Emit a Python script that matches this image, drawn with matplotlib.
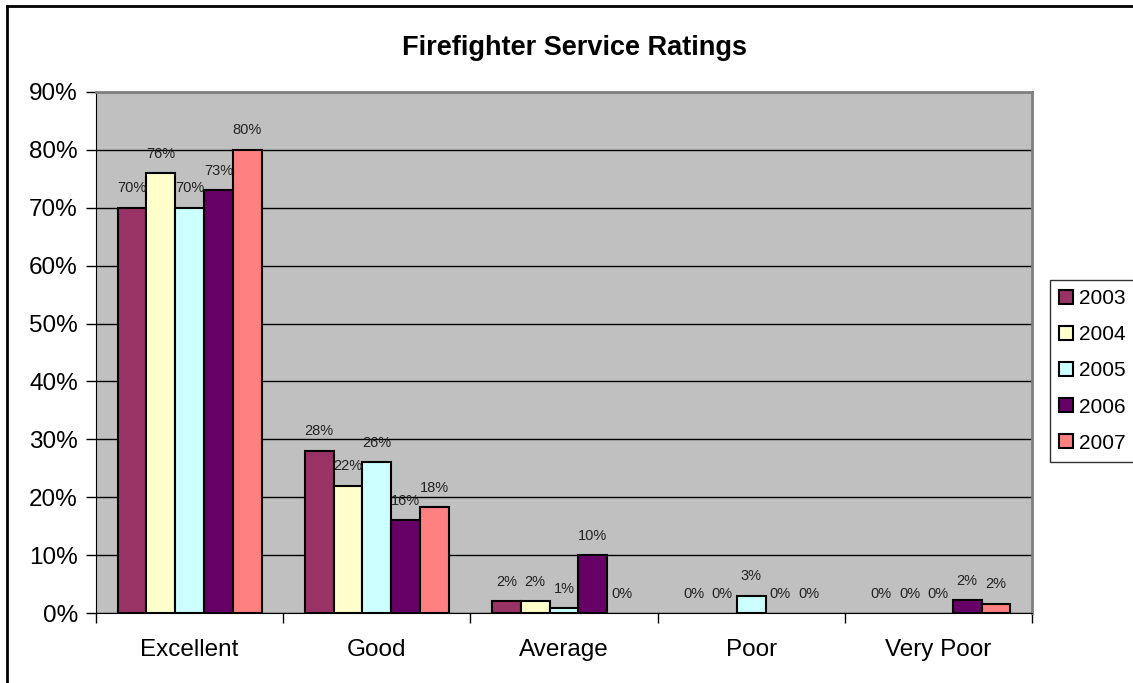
import matplotlib
matplotlib.use('Agg')
import matplotlib.pyplot as plt
import numpy as np
from matplotlib.lines import Line2D

categories = ['Excellent', 'Good', 'Average', 'Poor', 'Very Poor']
years = ['2003', '2004', '2005', '2006', '2007']
v2003 = [0.70, 0.28, 0.02, 0.0, 0.0]
v2004 = [0.76, 0.22, 0.02, 0.0, 0.0]
v2005 = [0.70, 0.26, 0.008, 0.03, 0.0]
v2006 = [0.73, 0.16, 0.10, 0.0, 0.022]
v2007 = [0.80, 0.183, 0.0, 0.0, 0.016]
colors = ['#993366', '#FFFFCC', '#CCFFFF', '#660066', '#FF8080']
yticks = [0, 0.1, 0.2, 0.3, 0.4, 0.5, 0.6, 0.7, 0.8, 0.9]

plt.rcParams['font.family'] = ['Liberation Sans', 'DejaVu Sans']

W, H = 1133, 683
fig = plt.figure(figsize=(W / 100, H / 100), dpi=100)
ax = fig.add_axes([96 / W, (H - 613) / H, (1032 - 96) / W, (613 - 92) / H])
ax.set_facecolor('#C0C0C0')

series = [v2003, v2004, v2005, v2006, v2007]
n = len(series)
bw = 1 / (n + 1.5)
x = np.arange(len(categories))
for i, (vals, c, yr) in enumerate(zip(series, colors, years)):
    pos = x - n * bw / 2 + (i + 0.5) * bw
    bars = ax.bar(pos, vals, width=bw, color=c, edgecolor='black', linewidth=1.5, label=yr, zorder=3)
    for b, px, v in zip(bars, pos, vals):
        if v == 0:
            b.set_linewidth(0)
        ax.annotate('%d%%' % round(v * 100), (px, v), xytext=(0, 9), textcoords='offset points',
                    ha='center', va='bottom', fontsize=10.5, color='#222222', zorder=4)

ax.set_xlim(-0.5, len(categories) - 0.5)
ax.set_ylim(0, 0.9)
ax.set_yticks(yticks)
ax.set_yticklabels(['%d%%' % round(t * 100) for t in yticks], fontsize=17.5)
ax.yaxis.grid(True, color='black', linewidth=1, zorder=1)
ax.set_axisbelow(True)

ax.set_xticks(x)
ax.set_xticklabels(categories, fontsize=17.5)
ax.tick_params(axis='x', length=0, pad=19)
ax.set_xticks(np.arange(len(categories) + 1) - 0.5, minor=True)
ax.tick_params(axis='x', which='minor', length=7, width=1, color='black', direction='out')
ax.tick_params(axis='y', length=7, width=1, direction='out', pad=6)

for s in ['top', 'right']:
    ax.spines[s].set_color('#808080')
    ax.spines[s].set_linewidth(2)
ax.spines['left'].set_color('black')
ax.spines['bottom'].set_color('black')

fig.text((398 + 752) / 2 / W, 1 - 48 / H, 'Firefighter Service Ratings',
         ha='center', va='center', fontsize=19.5, fontweight='bold')

leg = fig.legend(loc='center left', bbox_to_anchor=(1050 / W, 1 - 371 / H), fontsize=15,
                 frameon=True, fancybox=False, edgecolor='black', handlelength=0.65,
                 handleheight=0.65, handletextpad=0.3, labelspacing=0.82, borderpad=0.45,
                 borderaxespad=0)
leg.get_frame().set_linewidth(1)
for h in leg.legend_handles:
    h.set_linewidth(1.5)

fig.add_artist(Line2D([7 / W, 1], [1 - 6 / H, 1 - 6 / H], color='black', linewidth=2, transform=fig.transFigure))
fig.add_artist(Line2D([7 / W, 7 / W], [0, 1 - 6 / H], color='black', linewidth=2, transform=fig.transFigure))

fig.savefig('out.png', dpi=100)
